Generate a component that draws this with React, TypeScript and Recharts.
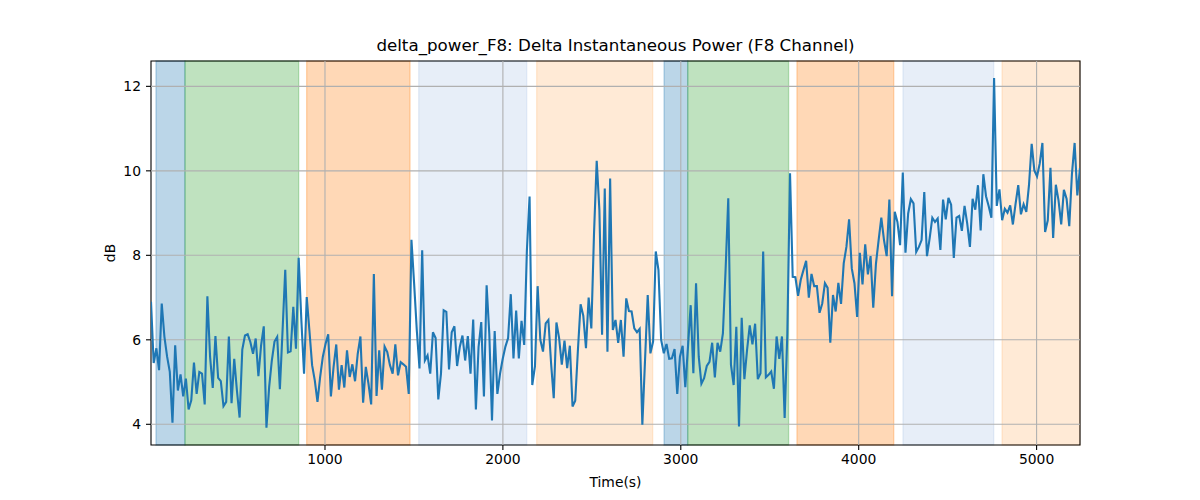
import { Label, Line, LineChart, ReferenceArea, ReferenceLine, XAxis, YAxis } from 'recharts';

// delta power readings (dB), one sample roughly every 15 s
const powerA = [6.9, 5.45, 5.8, 5.28, 6.86, 6.07, 5.6, 5.24, 4.04, 5.87, 4.8, 5.18, 4.66, 5.08, 4.35, 4.57, 5.46, 4.72, 5.24, 5.2, 4.47, 7.03, 5.6, 4.86, 6.09, 5.1, 5.02, 4.43, 4.53, 6.08, 4.5, 5.55, 4.8, 4.16, 5.77, 6.1, 6.13, 5.95, 5.67, 6.03, 5.14, 5.87, 6.32, 3.92];
const powerB = [4.88, 5.51, 5.96, 6.07, 4.83, 6.22, 7.66, 5.7, 5.73, 6.78, 5.79, 7.94, 6.46, 5.2, 7.01, 6.22, 5.4, 5.04, 4.53, 5.12, 5.6, 5.9, 6.13, 4.66, 5.36, 5.89, 4.82, 5.4, 4.87, 5.75, 5.12, 5.42, 5.02, 5.67, 6.08, 4.51, 5.36, 4.96, 4.47, 7.56, 4.67, 5.75, 4.82, 5.84];
const powerC = [5.71, 5.4, 5.2, 5.89, 5.16, 5.47, 5.42, 5.36, 4.72, 8.37, 7.33, 6.22, 5.32, 8.12, 5.51, 5.63, 5.2, 6.18, 6.04, 4.59, 5.2, 6.7, 6.66, 5.3, 6.18, 6.32, 5.38, 5.83, 6.1, 5.51, 6.09, 5.2, 6.48, 4.35, 5.83, 6.42, 4.66, 7.29, 6.14, 4.09, 6.21, 4.72, 5.2, 5.55];
const powerD = [5.84, 6.04, 7.08, 5.56, 6.69, 5.56, 6.45, 5.88, 8.12, 9.39, 4.93, 5.37, 7.27, 6.0, 5.72, 6.39, 6.47, 5.45, 4.62, 6.41, 6.04, 5.41, 5.98, 5.33, 5.86, 4.42, 4.56, 5.76, 6.84, 6.57, 5.8, 7.0, 6.27, 8.52, 10.24, 9.07, 6.12, 9.58, 5.72, 9.82, 6.23, 6.47, 5.93, 6.47];
const powerE = [5.6, 6.98, 6.68, 6.67, 6.27, 6.18, 6.26, 3.99, 5.52, 7.06, 5.68, 5.96, 8.09, 7.65, 6.0, 5.68, 5.9, 5.55, 5.56, 5.78, 4.72, 5.6, 5.86, 4.88, 5.84, 6.82, 5.21, 7.34, 5.6, 4.96, 5.09, 5.38, 5.48, 5.93, 5.11, 5.93, 5.72, 6.15, 7.65, 9.35, 5.41, 4.93, 6.31, 3.95];
const powerF = [6.52, 5.07, 5.76, 6.34, 5.89, 6.38, 5.07, 5.21, 8.09, 5.11, 5.17, 5.25, 4.84, 6.08, 5.55, 6.08, 4.15, 6.15, 9.94, 7.49, 7.48, 7.04, 7.42, 7.65, 7.87, 7.0, 7.56, 7.27, 7.27, 6.64, 6.86, 7.34, 7.23, 5.93, 7.06, 6.67, 7.35, 6.85, 7.81, 8.2, 8.85, 7.69, 7.34];
const powerG = [6.54, 8.06, 7.31, 8.26, 7.55, 7.98, 6.76, 7.8, 8.36, 8.89, 8.36, 7.98, 9.32, 7.03, 9.03, 8.79, 8.24, 9.96, 8.06, 8.99, 9.33, 9.23, 8.08, 8.2, 8.36, 9.5, 7.98, 8.4, 8.89, 8.79, 8.87, 8.13, 9.32, 8.85, 9.36, 9.2, 7.94, 8.89, 8.93, 8.58, 9.17, 8.75, 8.2];
const powerH = [9.34, 9.08, 9.66, 8.59, 9.92, 9.4, 9.16, 8.89, 12.2, 9.17, 9.56, 8.83, 9.1, 9.01, 9.18, 8.73, 9.22, 9.66, 8.97, 9.21, 9.03, 9.66, 10.64, 10.01, 9.87, 10.17, 10.66, 8.55, 8.83, 10.07, 8.41, 9.67, 9.3, 8.73, 9.55, 9.34, 8.69, 9.93, 10.66, 9.42, 10.07];

const power = [...powerA, ...powerB, ...powerC, ...powerD, ...powerE, ...powerF, ...powerG, ...powerH];

const T_START = 22;
const T_END = 5244;
const step = (T_END - T_START) / (power.length - 1);

const data = power.map((v, i) => ({ t: T_START + i * step, v }));

// shaded stage spans (s)
const spanStart = [50, 213, 897, 1527, 2190, 2906, 3039, 3653, 4249, 4806];
const spanEnd = [213, 852, 1478, 2134, 2842, 3039, 3606, 4197, 4759, 5244];
const spanColor = ['#1f77b4', '#2ca02c', '#ff7f0e', '#aec7e8', '#ffbb78', '#1f77b4', '#2ca02c', '#ff7f0e', '#aec7e8', '#ffbb78'];

const xTicks = [1000, 2000, 3000, 4000, 5000];
const yTicks = [4, 6, 8, 10, 12];
const Y_MIN = 3.51;
const Y_MAX = 12.6;

const font = 'DejaVu Sans, sans-serif';
const tickStyle = { fill: '#000', fontSize: 13.9, fontFamily: font };

export default function App() {
  return (
    <div style={{ position: 'absolute', left: 0, top: 0, width: 1200, height: 500, background: '#fff' }}>
      <div
        style={{
          position: 'absolute',
          left: 151,
          top: 35,
          width: 929,
          textAlign: 'center',
          fontFamily: font,
          fontSize: 16.7,
          lineHeight: '20px',
          color: '#000',
        }}
      >
        delta_power_F8: Delta Instantaneous Power (F8 Channel)
      </div>
      <LineChart width={1200} height={500} data={data} margin={{ top: 61, right: 120, bottom: 10, left: 69 }}>
        <XAxis
          dataKey="t"
          type="number"
          domain={[T_START, T_END]}
          ticks={xTicks}
          allowDataOverflow
          axisLine={false}
          tickLine={{ stroke: '#000', strokeWidth: 1.1 }}
          tickSize={5}
          tickMargin={4}
          tick={tickStyle}
          height={45}
        >
          <Label value="Time(s)" position="insideBottom" offset={3} style={{ fill: '#000', fontSize: 13.9, fontFamily: font }} />
        </XAxis>
        <YAxis
          type="number"
          domain={[Y_MIN, Y_MAX]}
          ticks={yTicks}
          allowDataOverflow
          axisLine={false}
          tickLine={{ stroke: '#000', strokeWidth: 1.1 }}
          tickSize={5}
          tickMargin={5}
          tick={tickStyle}
          width={82}
        >
          <Label value="dB" angle={-90} position="center" style={{ fill: '#000', fontSize: 13.9, fontFamily: font }} />
        </YAxis>
        {spanStart.map((s, i) => (
          <ReferenceArea
            key={`span-${i}`}
            x1={s}
            x2={spanEnd[i]}
            y1={Y_MIN}
            y2={Y_MAX}
            fill={spanColor[i]}
            fillOpacity={0.3}
            stroke={spanColor[i]}
            strokeOpacity={0.3}
            strokeWidth={1.3}
          />
        ))}
        {xTicks.map((x) => (
          <ReferenceLine key={`gx-${x}`} x={x} stroke="#b0b0b0" strokeWidth={1.1} />
        ))}
        {yTicks.map((y) => (
          <ReferenceLine key={`gy-${y}`} y={y} stroke="#b0b0b0" strokeWidth={1.1} />
        ))}
        <Line type="linear" dataKey="v" stroke="#1f77b4" strokeWidth={2.1} dot={false} isAnimationActive={false} />
        <ReferenceArea x1={T_START} x2={T_END} y1={Y_MIN} y2={Y_MAX} fill="none" stroke="#000" strokeWidth={1.1} />
      </LineChart>
    </div>
  );
}
